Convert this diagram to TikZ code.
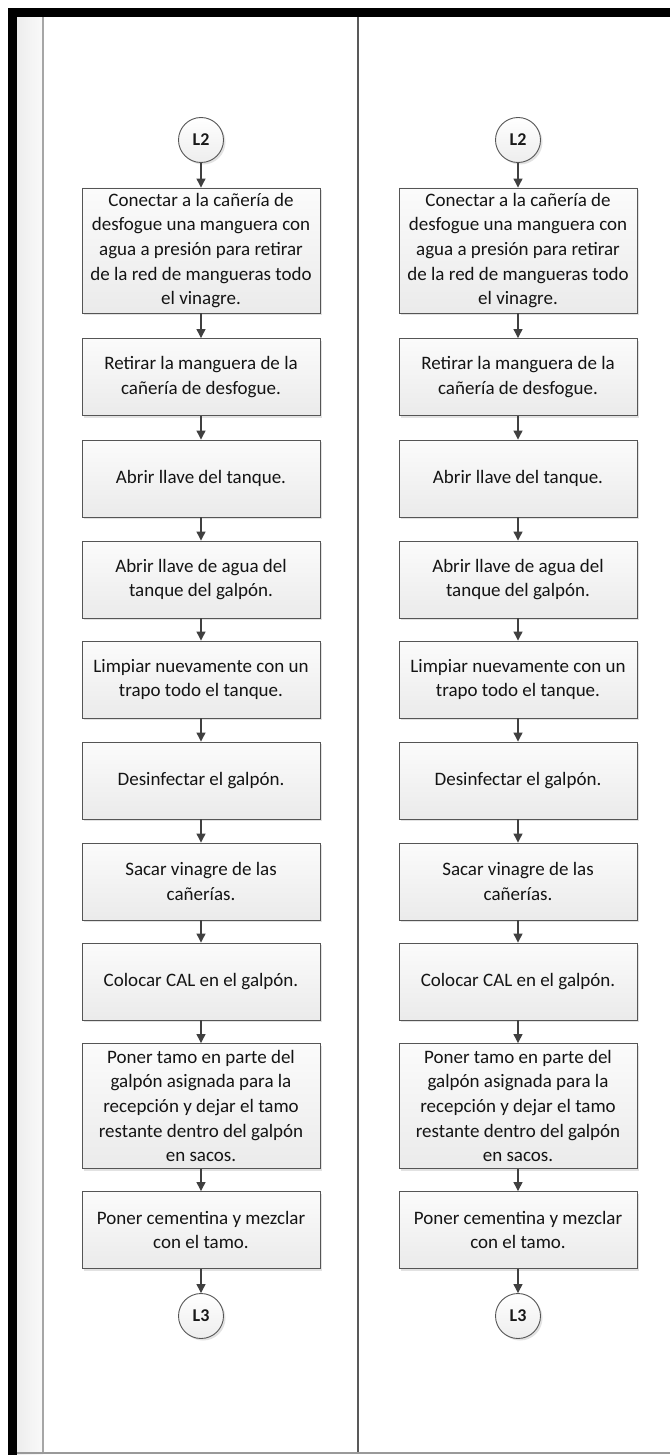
\documentclass[tikz,border=0pt]{standalone}
\usepackage{fontspec}
\setmainfont{Carlito}
\usetikzlibrary{arrows.meta,shadows,shapes.geometric}
\definecolor{edgegray}{HTML}{555555}
\definecolor{arrowgray}{HTML}{404040}
\tikzset{
  stepbox/.style={draw=edgegray, line width=0.9pt, top color=gray!3, bottom color=gray!16,
    minimum width=238pt, minimum height=77pt, align=center, inner sep=0pt,
    font=\fontsize{19}{24.7}\selectfont, text=black!92,
    drop shadow={shadow xshift=2pt, shadow yshift=-2pt, fill=gray!45, opacity=0.5}},
  bigbox/.style={stepbox, minimum height=125pt},
  connector/.style={circle, draw=edgegray, line width=0.9pt, top color=white, bottom color=gray!14,
    minimum size=45pt, inner sep=0pt, font=\fontsize{18}{22}\selectfont\bfseries, text=black!90,
    drop shadow={shadow xshift=2pt, shadow yshift=-2pt, fill=gray!45, opacity=0.5}},
  flow/.style={draw=arrowgray, line width=1.2pt, -{Triangle[length=9pt,width=9pt]}},
}
\newcommand\drawflowcolumn[2]{%
  \node[connector] (#1-s) at (#2,140) {L2};
  \node[bigbox] (#1-1) at (#2,250.5) {Conectar a la cañería de\\desfogue una manguera con\\agua a presión para retirar\\de la red de mangueras todo\\el vinagre.};
  \node[stepbox] (#1-2) at (#2,377) {Retirar la manguera de la\\cañería de desfogue.};
  \node[stepbox] (#1-3) at (#2,478.5) {Abrir llave del tanque.};
  \node[stepbox] (#1-4) at (#2,579.5) {Abrir llave de agua del\\tanque del galpón.};
  \node[stepbox] (#1-5) at (#2,679.5) {Limpiar nuevamente con un\\trapo todo el tanque.};
  \node[stepbox] (#1-6) at (#2,780.5) {Desinfectar el galpón.};
  \node[stepbox] (#1-7) at (#2,881.5) {Sacar vinagre de las\\cañerías.};
  \node[stepbox] (#1-8) at (#2,981.5) {Colocar CAL en el galpón.};
  \node[bigbox] (#1-9) at (#2,1106) {Poner tamo en parte del\\galpón asignada para la\\recepción y dejar el tamo\\restante dentro del galpón\\en sacos.};
  \node[stepbox] (#1-10) at (#2,1230) {Poner cementina y mezclar\\con el tamo.};
  \node[connector] (#1-e) at (#2,1316) {L3};
  \draw[flow] (#1-s) -- (#1-1);
  \draw[flow] (#1-1) -- (#1-2);
  \draw[flow] (#1-2) -- (#1-3);
  \draw[flow] (#1-3) -- (#1-4);
  \draw[flow] (#1-4) -- (#1-5);
  \draw[flow] (#1-5) -- (#1-6);
  \draw[flow] (#1-6) -- (#1-7);
  \draw[flow] (#1-7) -- (#1-8);
  \draw[flow] (#1-8) -- (#1-9);
  \draw[flow] (#1-9) -- (#1-10);
  \draw[flow] (#1-10) -- (#1-e);
}
\begin{document}
\begin{tikzpicture}[x=1pt,y=-1pt]
  \useasboundingbox (0,0) rectangle (670,1455);
  \fill[white] (0,0) rectangle (670,1455);
  % left light strip
  \shade[left color=gray!14, right color=gray!4] (17,17) rectangle (43,1455);
  \draw[gray!70, line width=1.2pt] (43,17) -- (43,1453);
  % middle divider
  \draw[black!65, line width=1.3pt] (358,17) -- (358,1453);
  % bottom line
  \draw[gray!80, line width=2pt] (17,1453) -- (670,1453);
  % thick black frame
  \fill[black] (8,8) rectangle (670,17);
  \fill[black] (8,8) rectangle (17,1455);
  \drawflowcolumn{a}{201}
  \drawflowcolumn{b}{518}
\end{tikzpicture}
\end{document}
